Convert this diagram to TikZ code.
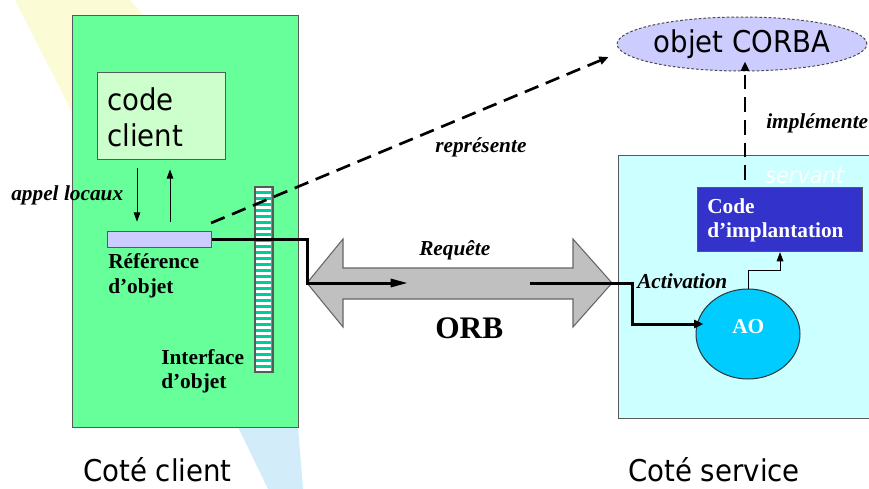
\documentclass[tikz,border=0pt]{standalone}
\usepackage{fontspec}
\setmainfont{Liberation Serif}
\newfontfamily\tah[FakeStretch=0.92]{DejaVu Sans}
\usetikzlibrary{arrows.meta,calc,shapes.geometric}

\definecolor{clientgreen}{HTML}{66FF99}
\definecolor{codegreen}{HTML}{CCFFCC}
\definecolor{lavender}{HTML}{CCCCFF}
\definecolor{stripe}{HTML}{00CC99}
\definecolor{orbgray}{HTML}{C0C0C0}
\definecolor{servcyan}{HTML}{CCFFFF}
\definecolor{implblue}{HTML}{3333CC}
\definecolor{aoblue}{HTML}{00CCFF}
\definecolor{paleyellow}{HTML}{FBFBD6}
\definecolor{paleblue}{HTML}{D2ECFA}

\begin{document}
\begin{tikzpicture}[x=0.75pt,y=-0.75pt,
  panel/.style={draw=black!65, line width=0.8pt, inner sep=0, anchor=north west},
  lbl/.style={font=\bfseries\fontsize{16}{18}\selectfont, inner sep=0, anchor=base west},
  lbli/.style={font=\bfseries\itshape\fontsize{16}{18}\selectfont, inner sep=0, anchor=base west},
  sans/.style={font=\tah\fontsize{22.5}{27}\selectfont, inner sep=0, anchor=base west},
  heavy/.style={line width=2.25pt},
  thinarrow/.style={line width=0.75pt, -{Triangle[length=7pt,width=5pt]}},
  dashline/.style={line width=2pt, dash pattern=on 11pt off 6pt, -{Triangle[length=7pt,width=6pt]}}
]
\useasboundingbox (0,0) rectangle (869,489);
\clip (0,0) rectangle (869,489);

% light wedges in the background
\fill[paleyellow] (15,0) -- (130,0) -- (200,80) -- (72,112) -- cycle;
\fill[paleblue] (238,427) -- (298,427) -- (303,489) -- (268,489) -- cycle;

% client side
\node[panel, fill=clientgreen, minimum width={226*0.75pt}, minimum height={412*0.75pt}] (client) at (72,15) {};
\node[panel, fill=codegreen, minimum width={128*0.75pt}, minimum height={87*0.75pt}] (code) at (97,72) {};
\node[sans] (codeA) at (107,110) {code};
\node[sans] (codeB) at (107,146) {client};
\node[panel, fill=lavender, minimum width={104*0.75pt}, minimum height={16*0.75pt}] (ref) at (107,231) {};
\node[lbl] (refA) at (108,268) {Référence};
\node[lbl] (refB) at (108,293) {d’objet};
\node[lbli] (appel) at (11,200) {appel locaux};

% striped interface bar
\node[panel, fill=stripe, minimum width={17*0.75pt}, minimum height={184*0.75pt}] (iface) at (255,187) {};
\foreach \i in {0,...,30} \fill[white] (256,188+\i*6) rectangle (271,191+\i*6);
\draw[black!65, line width=0.8pt] (iface.north west) rectangle (iface.south east);
\node[lbl] (ifA) at (161,364) {Interface};
\node[lbl] (ifB) at (161,388) {d’objet};

% local calls
\coordinate (dn) at (137,0);
\coordinate (up) at (170,0);
\draw[thinarrow, shorten <=6pt, shorten >=7pt] (dn |- code.south) -- (dn |- ref.north);
\draw[thinarrow, shorten <=7pt, shorten >=7pt] (up |- ref.north) -- (up |- code.south);

% server side
\node[panel, fill=servcyan, minimum width={262*0.75pt}, minimum height={263*0.75pt}] (serv) at (618,155) {};
\node[font=\tah\itshape\fontsize{17}{20}\selectfont, text=white, inner sep=0, anchor=base west] (servant) at (765,183) {servant};
\node[panel, fill=implblue, minimum width={165*0.75pt}, minimum height={64*0.75pt}] (impl) at (697,187) {};
\node[lbl, text=white] (implA) at (707,213) {Code};
\node[lbl, text=white] (implB) at (707,237) {d’implantation};
\node[ellipse, draw=black!80, line width=0.75pt, fill=aoblue, minimum width={104*0.75pt}, minimum height={90*0.75pt}] (ao) at (748,334) {};
\node[lbl, text=white] (aotext) at (732,333) {AO};
\node[lbli] (activ) at (637,288) {Activation};

% CORBA object
\node[ellipse, draw=black!70, dash pattern=on 2pt off 1.5pt, line width=0.75pt, fill=lavender, minimum width={234*0.75pt}, minimum height={54*0.75pt}, font=\tah\fontsize{22.5}{27}\selectfont, inner sep=0] (corba) at (742,44) {objet CORBA};

% ORB double arrow
\filldraw[fill=orbgray, draw=black!60, line width=0.8pt]
  (307,283) -- (343,239) -- (343,268) -- (573,268) -- (573,239) -- (612,283)
  -- (573,327) -- (573,299) -- (343,299) -- (343,327) -- cycle;
\coordinate (orbL) at (307,283);
\coordinate (orbR) at (612,283);
\node[lbli] (req) at (419,255) {Requête};
\node[font=\bfseries\fontsize{23.5}{26}\selectfont, inner sep=0, anchor=base west] (orb) at (435,338) {ORB};

% request path
\draw[heavy, -{Triangle[length=13pt,width=6pt]}] (ref.east) -| (orbL) -- ++(101,0);
\draw[heavy, -{Triangle[length=7pt,width=6pt]}] (530,283) -- (orbR) -- (632,283) |- ($(ao.west)+(8,-10)$);
\draw[thinarrow] (ao.north) -- ++(0,-18) -| (impl.south);

% dashed relations
\draw[dashline] ($(ref.north east)+(-1,-8)$) -- ($(corba.west)+(-8,13)$);
\node[lbli] (repr) at (435,152) {représente};
\coordinate (implfoot) at (745,180);
\draw[dashline] (implfoot) -- ($(corba.south)+(3,-10)$);
\node[lbli] (implem) at (766,128) {implémente};

% captions
\node[sans] (capC) at (83,481) {Coté client};
\node[sans] (capS) at (628,481) {Coté service};
\end{tikzpicture}
\end{document}
